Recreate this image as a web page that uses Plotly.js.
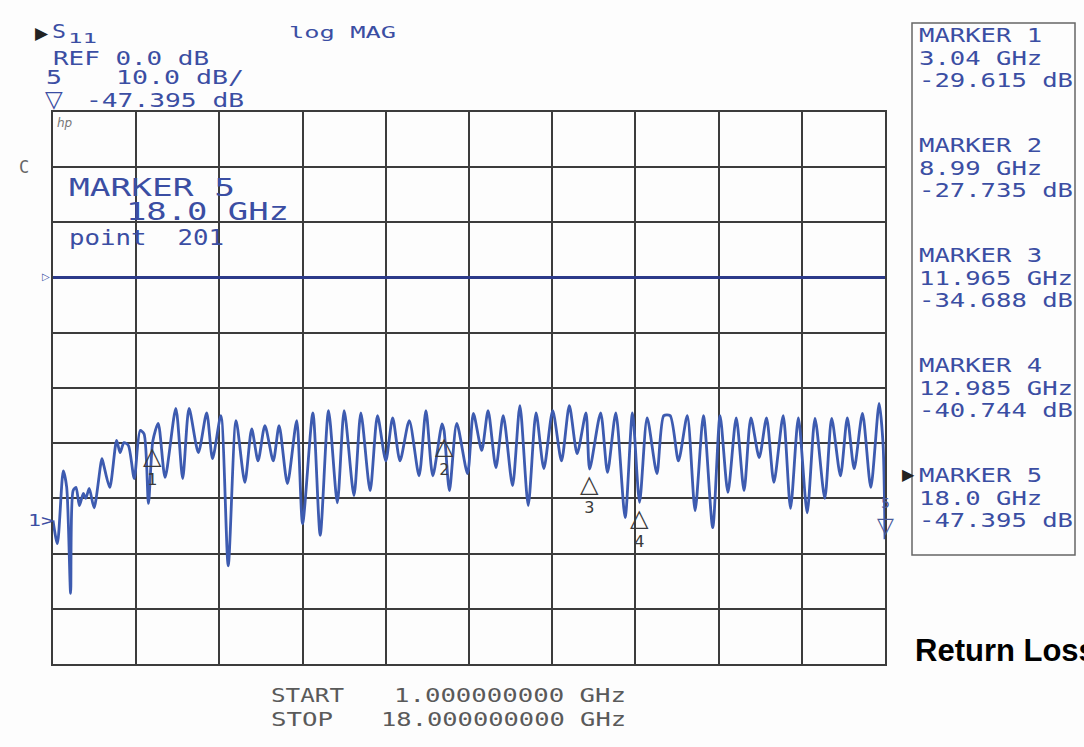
<!DOCTYPE html>
<html>
<head>
<meta charset="utf-8">
<script src="https://cdn.plot.ly/plotly-3.0.1.min.js"></script>
<style>
  html, body { margin: 0; padding: 0; background: #fdfdfd; }
  #chart { width: 1084px; height: 747px; }
</style>
</head>
<body>
<div id="chart"></div>
<script>
const startGHz = 1.0;
const stopGHz = 18.0;
const refLevelDb = 0.0;
const scaleDbPerDiv = 10.0;

const freqGHz = [1.00,1.09,1.21,1.28,1.36,1.41,1.47,1.54,1.62,1.67,
  1.74,1.84,2.00,2.04,2.16,2.30,2.37,2.45,2.54,2.66,
  2.78,2.86,2.95,3.04,3.15,3.29,3.51,3.65,3.78,3.97,
  4.14,4.26,4.43,4.58,4.74,4.92,5.06,5.19,5.33,5.50,
  5.62,5.79,5.98,6.10,6.31,6.46,6.63,6.81,6.95,7.15,
  7.29,7.48,7.63,7.80,7.94,8.09,8.28,8.48,8.62,8.76,
  8.95,8.99,9.10,9.25,9.47,9.59,9.76,9.89,10.05,10.20,
  10.39,10.54,10.71,10.87,11.03,11.21,11.39,11.55,11.71,11.89,
  11.965,12.19,12.33,12.50,12.69,12.84,12.985,13.14,13.34,13.48,
  13.61,13.78,13.96,14.12,14.29,14.48,14.63,14.79,14.96,15.12,
  15.26,15.43,15.58,15.73,15.92,16.07,16.23,16.41,16.57,16.77,
  16.91,17.09,17.23,17.37,17.54,17.71,17.88,17.96,18.00];

const s11dB = [-44.0,-48.2,-35.0,-38.0,-57.2,-38.6,-38.0,-41.3,-39.1,-40.0,
  -38.2,-41.7,-32.8,-34.1,-38.0,-29.5,-31.7,-29.9,-30.4,-36.4,
  -27.7,-28.3,-40.9,-29.6,-26.4,-36.2,-23.7,-36.4,-23.7,-31.7,
  -24.5,-32.8,-25.0,-52.2,-25.9,-37.1,-27.4,-33.2,-26.8,-33.2,
  -26.8,-37.3,-25.9,-44.6,-24.5,-46.7,-24.1,-40.8,-24.1,-39.5,
  -24.5,-38.6,-25.0,-33.2,-25.4,-33.2,-25.9,-35.9,-24.1,-35.9,
  -26.5,-27.7,-38.6,-26.4,-35.5,-24.6,-31.3,-24.1,-34.4,-25.0,
  -37.7,-23.2,-41.3,-24.5,-34.6,-24.1,-33.2,-23.2,-31.9,-24.5,
  -34.7,-24.5,-35.3,-24.5,-43.5,-24.5,-40.7,-25.4,-35.5,-25.0,
  -25.0,-33.2,-25.0,-42.2,-25.0,-45.3,-25.0,-38.9,-25.4,-38.6,
  -25.4,-32.6,-25.4,-37.1,-25.0,-41.8,-25.4,-42.6,-25.5,-40.0,
  -25.5,-35.9,-25.4,-34.6,-24.6,-38.0,-22.8,-30.1,-47.4];

const markerNum  = [1, 2, 3, 4, 5];
const markerFreq = [3.04, 8.99, 11.965, 12.985, 18.0];
const markerFreqLabel = ['3.04 GHz', '8.99 GHz', '11.965 GHz', '12.985 GHz', '18.0 GHz'];
const markerDb   = [-29.615, -27.735, -34.688, -40.744, -47.395];

// ---- layout helpers (pixel -> paper) ----
const L = 53, R = 885, T = 112, B = 664;
const P = x => (x - L) / (R - L);
const Q = y => (B - y) / (B - T);

const MONO = '"DejaVu Sans Mono", "Liberation Mono", monospace';
const BLUE = '#3b4ea3';
const GRAY = '#5a5a5a';

const annotations = [];
const stretch = [];
function txt(text, left, cy, size, width, color, extra) {
  const a = Object.assign({
    text: text, xref: 'paper', yref: 'paper', x: P(left), y: Q(cy),
    xanchor: 'left', yanchor: 'middle', align: 'left', showarrow: false,
    borderpad: 0,
    font: { family: MONO, size: size, color: color }
  }, extra || {});
  stretch[annotations.length] = width || 0;
  annotations.push(a);
}

// header block
txt('▶', 34, 33, 17, 0, '#222', {font: {family: '"DejaVu Sans"', size: 17, color: '#222'}});
txt('S', 51, 31, 19, 14, BLUE);
txt('11', 67, 38, 14, 29, BLUE);
txt('log MAG', 288, 33, 16, 107, BLUE);
txt('REF ' + refLevelDb.toFixed(1) + ' dB', 52, 58, 19, 156, BLUE);
txt('5', 45, 77, 19, 16, BLUE);
txt(scaleDbPerDiv.toFixed(1) + ' dB/', 115, 77, 19, 128, BLUE);
txt('▽', 44, 99, 23, 0, BLUE, {font: {family: '"DejaVu Sans"', size: 23, color: BLUE}});
txt(markerDb[4].toFixed(3) + ' dB', 85, 100, 19, 158, BLUE);
txt('hp', 56, 123, 12, 0, '#777', {font: {family: '"DejaVu Sans"', size: 12, color: '#777', style: 'italic'}});
txt('C', 18, 167, 17, 0, '#666');
txt('MARKER ' + markerNum[4], 68, 187, 25, 166, BLUE);
txt(markerFreqLabel[4], 125, 211, 25, 163, BLUE);
txt('point  201', 68, 238, 21, 155, BLUE);

// marker listing box
const CW = 15.4;
for (let k = 0; k < 5; k++) {
  const top = 28 + 110 * k;
  const l1 = 'MARKER ' + markerNum[k];
  const l2 = markerFreqLabel[k];
  const l3 = markerDb[k].toFixed(3) + ' dB';
  txt(l1, 918, top + 7, 19, l1.length * CW, BLUE);
  txt(l2, 918, top + 30, 19, l2.length * CW, BLUE);
  txt(l3, 918, top + 52, 19, l3.length * CW, BLUE);
}
txt('▶', 901, 475, 16, 0, '#222', {font: {family: '"DejaVu Sans"', size: 16, color: '#222'}});

// bottom start/stop
txt('START', 270, 695, 20, 73, GRAY);
txt(startGHz.toFixed(9) + ' GHz', 393, 695, 20, 232, GRAY);
txt('STOP', 270, 719, 20, 62, GRAY);
txt(stopGHz.toFixed(9) + ' GHz', 380, 719, 20, 245, GRAY);

// left side reference marks
txt('1>', 27, 520, 16, 26, BLUE);
txt('▷', 41, 276, 10, 0, BLUE, {font: {family: '"DejaVu Sans"', size: 10, color: BLUE}});

// caption
txt('Return Loss', 914, 650, 31, 0, '#000', {font: {family: '"Liberation Sans", Arial, sans-serif', size: 31, color: '#000', weight: 'bold'}});

// marker symbols on the trace (data coordinates)
for (let k = 0; k < 5; k++) {
  const active = (k === 4);
  if (!active) {
    stretch[annotations.length] = 0;
    annotations.push({
      xref: 'x', yref: 'y', x: markerFreq[k], y: markerDb[k],
      text: '<span style="font-size:24px">△</span><br>' + markerNum[k],
      xanchor: 'center', yanchor: 'top', showarrow: false, borderpad: 0,
      font: { family: '"DejaVu Sans"', size: 16, color: '#3a3a3a' }
    });
  } else {
    stretch[annotations.length] = 0;
    annotations.push({
      xref: 'x', yref: 'y', x: markerFreq[k], y: markerDb[k],
      text: '▽', xanchor: 'center', yanchor: 'bottom', showarrow: false, borderpad: 0,
      font: { family: '"DejaVu Sans"', size: 22, color: '#4a5a9a' }
    });
    stretch[annotations.length] = 0;
    annotations.push({
      xref: 'x', yref: 'y', x: markerFreq[k], y: markerDb[k],
      text: String(markerNum[k]), xanchor: 'center', yanchor: 'bottom', yshift: 27,
      showarrow: false, borderpad: 0,
      font: { family: '"DejaVu Sans"', size: 14, color: '#4a5a9a' }
    });
  }
}

const data = [
  { x: [startGHz, stopGHz], y: [refLevelDb, refLevelDb], mode: 'lines',
    line: { color: '#2c3a8a', width: 3 }, hoverinfo: 'skip' },
  { x: freqGHz, y: s11dB, mode: 'lines',
    line: { color: '#3d5bb0', width: 2.8, shape: 'spline', smoothing: 0.7 }, hoverinfo: 'skip' }
];

const axisCommon = {
  showticklabels: false, ticks: '', zeroline: false,
  showgrid: true, gridcolor: '#3c3c3c', gridwidth: 2,
  showline: true, mirror: true, linecolor: '#3c3c3c', linewidth: 2
};

const layout = {
  width: 1084, height: 747,
  margin: { l: L, r: 1084 - R, t: T, b: 747 - B, pad: 0 },
  paper_bgcolor: '#fdfdfd', plot_bgcolor: '#fdfdfd',
  showlegend: false,
  xaxis: Object.assign({ range: [startGHz, stopGHz], tick0: startGHz, dtick: (stopGHz - startGHz) / 10 }, axisCommon),
  yaxis: Object.assign({ range: [refLevelDb - 7 * scaleDbPerDiv, refLevelDb + 3 * scaleDbPerDiv], tick0: refLevelDb, dtick: scaleDbPerDiv }, axisCommon),
  shapes: [
    { type: 'rect', xref: 'paper', yref: 'paper', x0: P(912), x1: P(1075), y0: Q(23), y1: Q(555),
      line: { color: '#666', width: 1.5 }, fillcolor: 'rgba(0,0,0,0)' }
  ],
  annotations: annotations
};

Plotly.newPlot('chart', data, layout, { staticPlot: true, displayModeBar: false }).then(function (gd) {
  stretch.forEach(function (w, i) {
    if (!w) return;
    const t = gd.querySelector('g.annotation[data-index="' + i + '"] text.annotation-text');
    if (t) {
      t.setAttribute('textLength', w);
      t.setAttribute('lengthAdjust', 'spacingAndGlyphs');
    }
  });
});
</script>
</body>
</html>
